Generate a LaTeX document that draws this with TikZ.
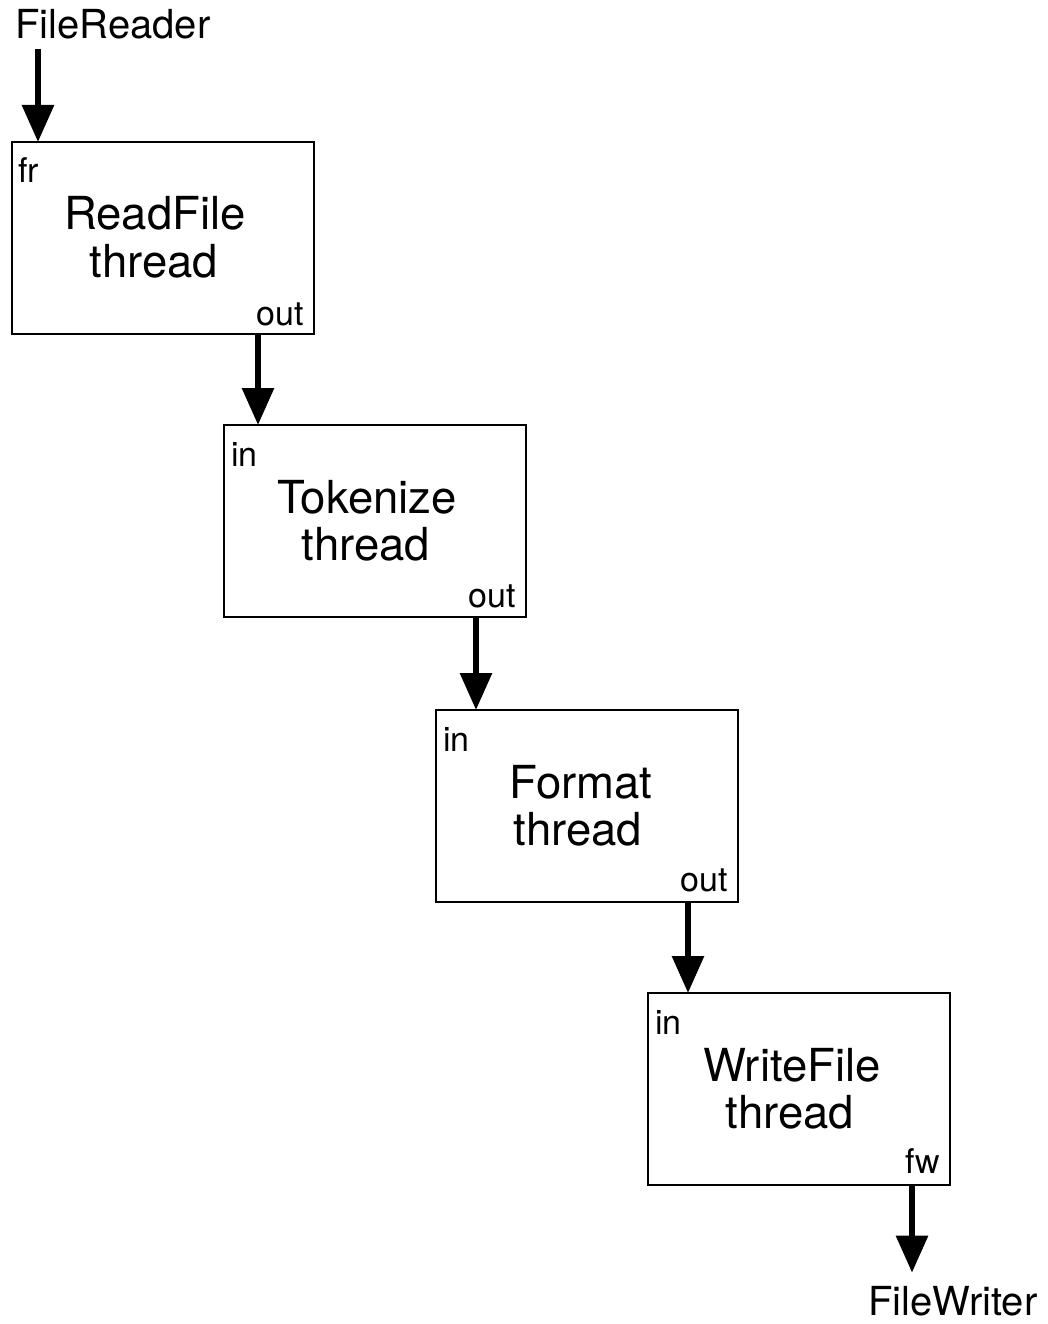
\documentclass[tikz,border=0pt]{standalone}
\usepackage{fontspec}
\setmainfont{TeX Gyre Heros}
\usetikzlibrary{arrows.meta}
\begin{document}
\begin{tikzpicture}[x=1pt,y=-1pt,
  box/.style={draw, line width=2pt, minimum width=302pt, minimum height=192pt, inner sep=0pt, outer sep=0pt, anchor=north west},
  title/.style={font=\fontsize{45.5}{54}\selectfont, inner sep=0pt, anchor=base},
  port/.style={font=\fontsize{34}{40}\selectfont, inner sep=0pt},
  ext/.style={font=\fontsize{40}{48}\selectfont, inner sep=0pt, anchor=base west},
  flow/.style={line width=6pt, -{Triangle[length=37pt,width=31pt]}}]
\useasboundingbox (0,0) rectangle (1047,1324);

% boxes
\node[box] (b1) at (12,142) {};
\node[box] (b2) at (224,425) {};
\node[box] (b3) at (436,710) {};
\node[box] (b4) at (648,993) {};

% titles
\node[title] (t1a) at (155,230) {ReadFile};
\node[title] (t1b) at (154,277) {thread};
\node[title] (t2a) at (367,513) {Tokenize};
\node[title] (t2b) at (366,560) {thread};
\node[title] (t3a) at (581,798) {Format};
\node[title] (t3b) at (578,845) {thread};
\node[title] (t4a) at (792,1081) {WriteFile};
\node[title] (t4b) at (790,1128) {thread};

% ports
\node[port, anchor=base west] (p1i) at (18,183) {fr};
\node[port, anchor=base east] (p1o) at (304,325) {out};
\node[port, anchor=base west] (p2i) at (231,466) {in};
\node[port, anchor=base east] (p2o) at (516,607) {out};
\node[port, anchor=base west] (p3i) at (443,751) {in};
\node[port, anchor=base east] (p3o) at (728,891) {out};
\node[port, anchor=base west] (p4i) at (655,1034) {in};
\node[port, anchor=base east] (p4o) at (940,1173) {fw};

% external labels
\node[ext] (fileReader) at (15,39) {FileReader};
\node[ext] (fileWriter) at (868,1315) {FileWriter};

% connectors
\draw[flow] ([xshift=23pt,yshift=-9pt]fileReader.south west) -- ([xshift=26pt]b1.north west);
\draw[flow] ([xshift=246pt]b1.south west) -- ([xshift=34pt]b2.north west);
\draw[flow] ([xshift=252pt]b2.south west) -- ([xshift=40pt]b3.north west);
\draw[flow] ([xshift=252pt]b3.south west) -- ([xshift=40pt]b4.north west);
\draw[flow] ([xshift=264pt]b4.south west) -- ([xshift=44pt,yshift=13pt]fileWriter.north west);
\end{tikzpicture}
\end{document}
